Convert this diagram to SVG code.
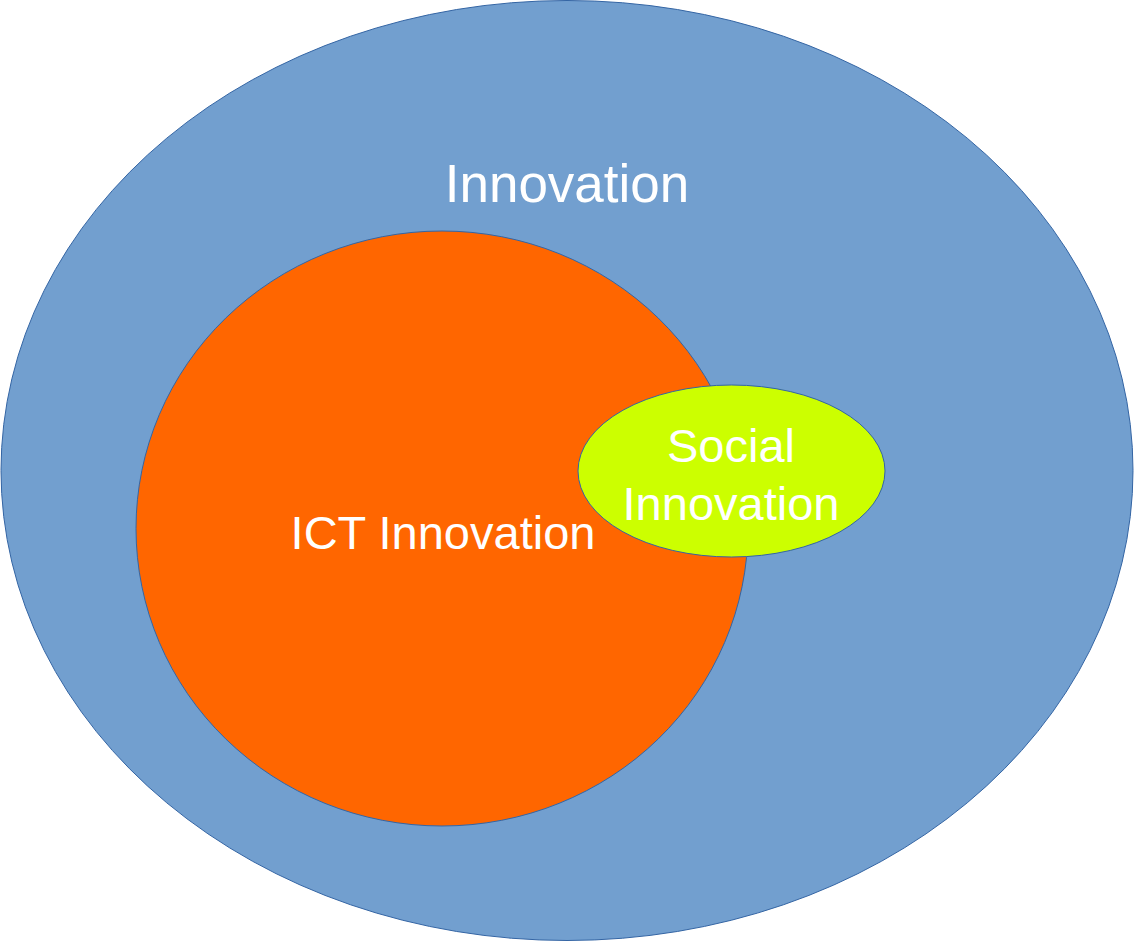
<svg xmlns="http://www.w3.org/2000/svg" width="1134" height="941" viewBox="0 0 1134 941">
<style>
.shape{stroke:#3465a4;stroke-width:1}
.lbl{font-family:"Liberation Sans",Arial,sans-serif;fill:#ffffff;text-anchor:middle}
</style>
<rect width="1134" height="941" fill="#ffffff"/>
<g id="innovation">
<ellipse class="shape" cx="567" cy="470.5" rx="566" ry="470" fill="#729fcf"/>
<text class="lbl" x="567" y="202" font-size="53">Innovation</text>
</g>
<g id="ict-innovation">
<ellipse class="shape" cx="442" cy="528.5" rx="306" ry="297.5" fill="#ff6600"/>
<text class="lbl" x="443" y="549" font-size="47">ICT Innovation</text>
</g>
<g id="social-innovation">
<ellipse class="shape" cx="731.5" cy="471" rx="153.5" ry="86" fill="#ccff00"/>
<text class="lbl" x="731" y="462" font-size="47">Social</text>
<text class="lbl" x="731" y="520" font-size="47">Innovation</text>
</g>
<g id="connectors"/>
</svg>
